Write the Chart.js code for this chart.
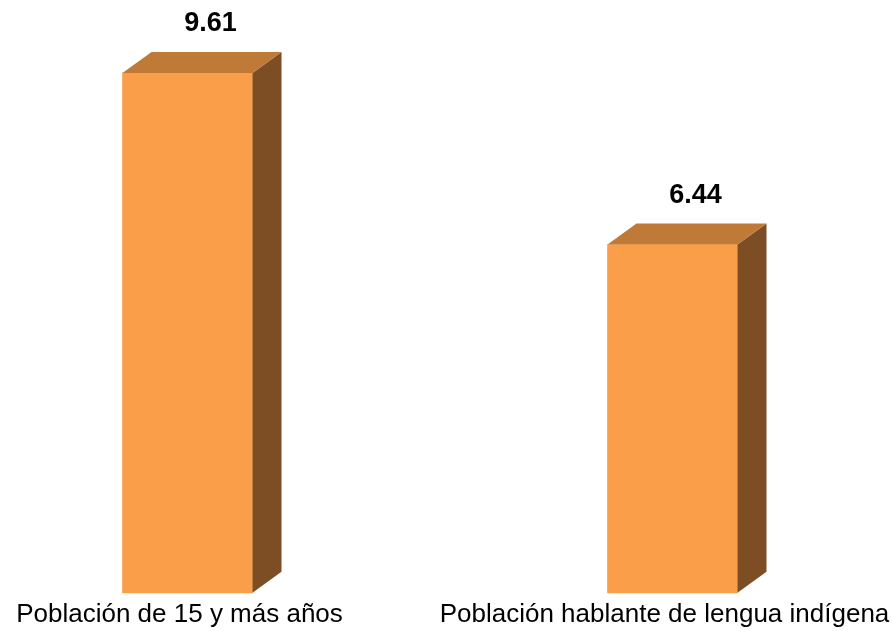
<!DOCTYPE html>
<html>
<head>
<meta charset="utf-8">
<script src="https://cdn.jsdelivr.net/npm/chart.js@4.4.0/dist/chart.umd.min.js"></script>
<style>
  html, body { margin: 0; padding: 0; background: #fff; }
  #wrap { width: 893px; height: 631px; }
</style>
</head>
<body>
<div id="wrap"><canvas id="barChart"></canvas></div>
<script>
const categories = ["Población de 15 y más años", "Población hablante de lengua indígena"];
const values = [9.61, 6.44];
const valueLabels = ["9.61", "6.44"];

const frontColor = "#FB9E4A";
const topColor = "#C07A38";
const sideColor = "#7D4E24";
const depthX = 29;
const depthY = 21;

const bar3d = {
    id: "bar3d",
    afterDatasetsDraw(chart) {
        const ctx = chart.ctx;
        const meta = chart.getDatasetMeta(0);
        ctx.save();
        meta.data.forEach((bar, i) => {
            const { x, y, base, width } = bar.getProps(["x", "y", "base", "width"], true);
            const left = x - width / 2;
            const right = x + width / 2;

            // side
            ctx.fillStyle = sideColor;
            ctx.beginPath();
            ctx.moveTo(right, y);
            ctx.lineTo(right + depthX, y - depthY);
            ctx.lineTo(right + depthX, base - depthY);
            ctx.lineTo(right, base);
            ctx.closePath();
            ctx.fill();

            // top
            ctx.fillStyle = topColor;
            ctx.beginPath();
            ctx.moveTo(left, y);
            ctx.lineTo(left + depthX, y - depthY);
            ctx.lineTo(right + depthX, y - depthY);
            ctx.lineTo(right, y);
            ctx.closePath();
            ctx.fill();

            ctx.fillStyle = "#000";
            ctx.font = "bold 27px 'Liberation Sans', Arial, sans-serif";
            ctx.textAlign = "center";
            ctx.textBaseline = "middle";
            ctx.fillText(valueLabels[i], x + 23, y - 49);
        });
        ctx.restore();
    }
};

new Chart(document.getElementById("barChart"), {
    type: "bar",
    data: {
        labels: categories,
        datasets: [{
            data: values,
            backgroundColor: frontColor,
            barThickness: 130,
            clip: false
        }]
    },
    options: {
        responsive: true,
        maintainAspectRatio: false,
        animation: false,
        layout: {
            padding: { left: 187.5, right: 220.5, top: 0, bottom: -5 }
        },
        plugins: {
            legend: { display: false },
            tooltip: { enabled: false }
        },
        scales: {
            x: {
                offset: false,
                grid: { display: false, drawTicks: false },
                border: { display: false },
                afterFit: (scale) => {
                    scale.paddingLeft = 0;
                    scale.paddingRight = 0;
                },
                ticks: {
                    color: "#000",
                    padding: 6,
                    labelOffset: -8,
                    maxRotation: 0,
                    autoSkip: false,
                    font: { family: "'Liberation Sans', Arial, sans-serif", size: 26 }
                }
            },
            y: {
                display: false,
                min: 0,
                max: 10.96
            }
        }
    },
    plugins: [bar3d]
});
</script>
</body>
</html>
